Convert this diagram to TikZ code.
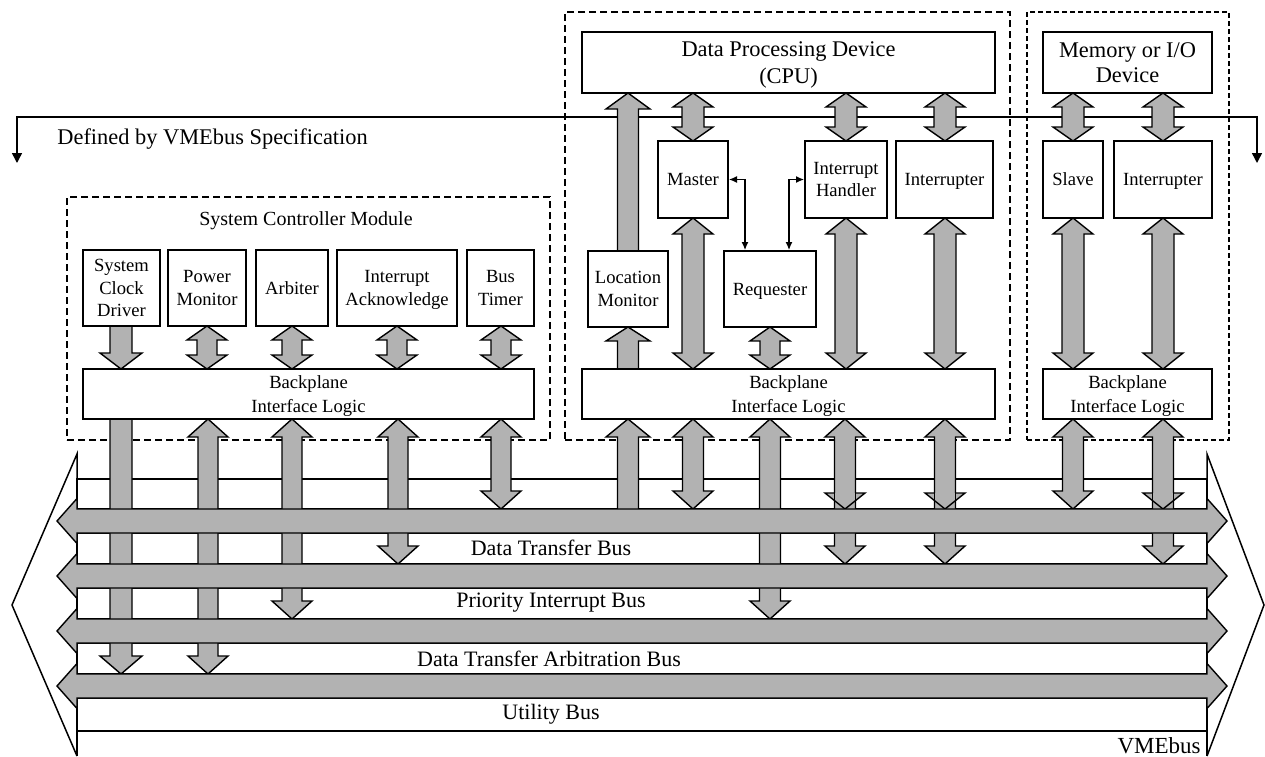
\documentclass[tikz,border=0pt]{standalone}
\usepackage{fontspec}
\setmainfont{Liberation Serif}
\usetikzlibrary{arrows.meta,calc}
\definecolor{agray}{RGB}{178,178,178}
\newcommand{\fsm}{\fontsize{9.3}{11.25}\selectfont}
\newcommand{\fbp}{\fontsize{9.3}{12}\selectfont}
\newcommand{\fmid}{\fontsize{10}{12}\selectfont}
\newcommand{\flg}{\fontsize{11.2}{13.3}\selectfont}
\newcommand{\fbus}{\fontsize{11}{13}\selectfont}
% rectangle node by corners: style, name, x1, y1, x2, y2, text
\newcommand{\bx}[7]{\node[#1, minimum width={(#5-#3)*0.5pt}, minimum height={(#6-#4)*0.5pt}] (#2) at ({(#3+#5)/2},{(#4+#6)/2}) {#7};}
% double vertical arrow: x, ytop, ybot, headlen, headhalf, shafthalf
\newcommand{\DA}[6]{\filldraw[garrow] (#1,#2) -- ({#1+#5},{#2+#4}) -- ({#1+#6},{#2+#4}) -- ({#1+#6},{#3-#4}) -- ({#1+#5},{#3-#4}) -- (#1,#3) -- ({#1-#5},{#3-#4}) -- ({#1-#6},{#3-#4}) -- ({#1-#6},{#2+#4}) -- ({#1-#5},{#2+#4}) -- cycle;}
% up arrow: tip at #2, flat end at #3
\newcommand{\UA}[6]{\filldraw[garrow] (#1,#2) -- ({#1+#5},{#2+#4}) -- ({#1+#6},{#2+#4}) -- ({#1+#6},#3) -- ({#1-#6},#3) -- ({#1-#6},{#2+#4}) -- ({#1-#5},{#2+#4}) -- cycle;}
% down arrow: flat end at #2, tip at #3
\newcommand{\DnA}[6]{\filldraw[garrow] ({#1-#6},#2) -- ({#1+#6},#2) -- ({#1+#6},{#3-#4}) -- ({#1+#5},{#3-#4}) -- (#1,#3) -- ({#1-#5},{#3-#4}) -- ({#1-#6},{#3-#4}) -- cycle;}
% horizontal double arrow: y, xleft tip, xright tip, headlen, headhalf, shafthalf
\newcommand{\HA}[6]{\filldraw[garrow] (#2,#1) -- ({#2+#4},{#1-#5}) -- ({#2+#4},{#1-#6}) -- ({#3-#4},{#1-#6}) -- ({#3-#4},{#1-#5}) -- (#3,#1) -- ({#3-#4},{#1+#5}) -- ({#3-#4},{#1+#6}) -- ({#2+#4},{#1+#6}) -- ({#2+#4},{#1+#5}) -- cycle;}
% intermediate arrow head on a shaft: x, ytip, headlen, headhalf, shafthalf
\newcommand{\XH}[5]{\fill[agray] ({#1-#4},{#2-#3}) -- ({#1+#4},{#2-#3}) -- (#1,#2) -- cycle;
 \draw[garrowline] ({#1-#5},{#2-#3}) -- ({#1-#4},{#2-#3}) -- (#1,#2) -- ({#1+#4},{#2-#3}) -- ({#1+#5},{#2-#3});
 \draw[garrowline] ({#1-#5},{#2-#3}) -- ({#1-#5},#2) ({#1+#5},{#2-#3}) -- ({#1+#5},#2);}
\tikzset{
  garrow/.style={fill=agray, draw=black, line width=0.7pt, line join=miter},
  garrowline/.style={draw=black, line width=0.7pt},
  box/.style={draw=black, line width=1pt, fill=white, inner sep=0pt, align=center, font=\fsm, text depth=0pt},
  bpbox/.style={box, font=\fbp},
  cpubox/.style={box, font=\fontsize{11.2}{13.5}\selectfont},
  membox/.style={box, font=\fontsize{11.2}{12.8}\selectfont},
  dashbox/.style={draw=black, line width=1pt, dash pattern=on 3.5pt off 2pt, inner sep=0pt},
  densebox/.style={draw=black, line width=1.2pt, dash pattern=on 2.5pt off 1.5pt, inner sep=0pt},
  band/.style={draw=black, fill=white, line width=0.75pt},
  thinline/.style={draw=black, line width=0.75pt},
  conn/.style={draw=black, line width=0.6pt, {Latex[length=4pt,width=3.5pt]}-{Latex[length=4pt,width=3.5pt]}},
  buslabel/.style={font=\fbus, inner sep=0pt}
}
\begin{document}
\begin{tikzpicture}[x=0.5pt,y=-0.5pt]
\useasboundingbox (0,0) rectangle (1265,756);
% specification line
\coordinate (dl) at (17,163);
\coordinate (dr) at (1257,163);
\coordinate (dtop) at (0,117);
\draw[thinline, {Triangle[length=5pt,width=5pt]}-{Triangle[length=5pt,width=5pt]}] (dl) -- (dl |- dtop) -- (dr |- dtop) -- (dr);
\node[font=\flg, anchor=west, inner sep=0pt] (spec) at (57,139) {Defined by VMEbus Specification};
% dashed module boxes
\bx{dashbox}{scm}{67}{197}{550}{440}{}
\bx{dashbox}{dpd}{565}{12}{1010}{440}{}
\bx{densebox}{mio}{1027}{12}{1229}{440}{}
\node[font=\fmid, inner sep=0pt] (scmt) at (306,221) {System Controller Module};
% VMEbus outline and bands
\draw[thinline] (77,479) -- (77,454) -- (12,605) -- (77,756);
\draw[thinline] (1207,479) -- (1207,454) -- (1264,605) -- (1207,756);
\draw[band] (77,479) rectangle (1207,509);
\draw[band] (77,533) rectangle (1207,564);
\draw[band] (77,588) rectangle (1207,619);
\draw[band] (77,643) rectangle (1207,674);
\draw[band] (77,698) rectangle (1207,731);
\draw[thinline] (77,756) -- (77,731) -- (1207,731) -- (1207,756);
% vertical arrows, system controller
\DnA{121}{326}{369}{16}{21}{11}
\DA{207}{326}{369}{14}{20}{10}
\DA{292}{326}{369}{14}{20}{10}
\DA{397}{326}{369}{14}{20}{10}
\DA{501}{326}{369}{14}{20}{10}
% vertical arrows, data processing device
\UA{628}{93}{251}{16}{22}{10.5}
\DA{693}{93}{141}{14}{20}{11}
\DA{846}{93}{141}{14}{20}{11}
\DA{945}{93}{141}{14}{20}{11}
\DA{693}{218}{369}{16}{20}{11}
\DA{846}{218}{369}{16}{20}{11}
\DA{945}{218}{369}{16}{20}{11}
\UA{628}{327}{369}{14}{22}{10.5}
\DA{770}{327}{369}{14}{20}{10}
% vertical arrows, memory
\DA{1073}{93}{141}{14}{20}{11}
\DA{1163}{93}{141}{14}{20}{11}
\DA{1073}{218}{369}{16}{20}{11}
\DA{1163}{218}{369}{16}{20}{11}
% arrows to the buses
\DnA{121}{419}{674}{18}{21}{11}
\DA{208}{419}{674}{18}{20}{10}
\DA{292}{419}{619}{18}{20}{10}
\DA{398}{419}{564}{18}{20}{10}
\DA{501}{419}{509}{18}{20}{10}
\UA{628}{419}{521}{18}{22}{10.5}
\DA{693}{419}{509}{18}{20}{10.5}
\DA{770}{419}{619}{18}{20}{10.5}
\DA{845}{419}{564}{18}{20}{10.5}
\XH{845}{509}{16}{20}{10.5}
\DA{945}{419}{564}{18}{20}{10.5}
\XH{945}{509}{16}{20}{10.5}
\DA{1073}{419}{509}{18}{20}{10.5}
\DA{1163}{419}{564}{18}{20}{10.5}
\XH{1163}{509}{16}{20}{10.5}
% buses
\HA{521}{57}{1227}{20}{22.5}{12}
\HA{576}{57}{1227}{20}{22.5}{12}
\HA{631}{57}{1227}{20}{22.5}{12}
\HA{686}{57}{1227}{20}{22.5}{12}
\node[buslabel] (dtb) at (551,548) {Data Transfer Bus};
\node[buslabel] (pib) at (551,603) {Priority Interrupt Bus};
\node[buslabel] (dtab) at (549,659) {Data Transfer Arbitration Bus};
\node[buslabel] (ub) at (551,714) {Utility Bus};
\node[font=\fontsize{11.5}{13}\selectfont, anchor=base east, inner sep=0pt] (vme) at (1201,753) {VMEbus};
% system controller boxes
\bx{box}{scd}{83}{250}{160}{326}{System\\Clock\\Driver}
\bx{box}{pm}{168}{250}{246}{326}{Power\\Monitor}
\bx{box}{arb}{256}{250}{328}{326}{Arbiter}
\bx{box}{iack}{337}{250}{457}{326}{Interrupt\\Acknowledge}
\bx{box}{bt}{467}{250}{534}{326}{Bus\\Timer}
\bx{bpbox}{bp1}{83}{369}{534}{419}{Backplane\\Interface Logic}
% data processing device boxes
\bx{cpubox}{cpu}{582}{32}{995}{93}{Data Processing Device\\(CPU)}
\bx{box}{master}{658}{141}{728}{218}{Master}
\bx{box}{ih}{805}{141}{887}{218}{Interrupt\\Handler}
\bx{box}{intr}{896}{141}{993}{218}{Interrupter}
\bx{box}{lm}{588}{251}{668}{327}{Location\\Monitor}
\bx{box}{req}{724}{251}{816}{327}{Requester}
\bx{bpbox}{bp2}{582}{369}{995}{419}{Backplane\\Interface Logic}
% memory boxes
\bx{membox}{mem}{1043}{32}{1212}{93}{Memory or I/O\\Device}
\bx{box}{slave}{1043}{141}{1103}{218}{Slave}
\bx{box}{mintr}{1114}{141}{1212}{218}{Interrupter}
\bx{bpbox}{bp3}{1043}{369}{1212}{419}{Backplane\\Interface Logic}
% thin connectors
\draw[conn] (master.east) -| ($(req.north west)+(22,0)$);
\draw[conn] (ih.west) -| ($(req.north east)+(-28,0)$);
\end{tikzpicture}
\end{document}
